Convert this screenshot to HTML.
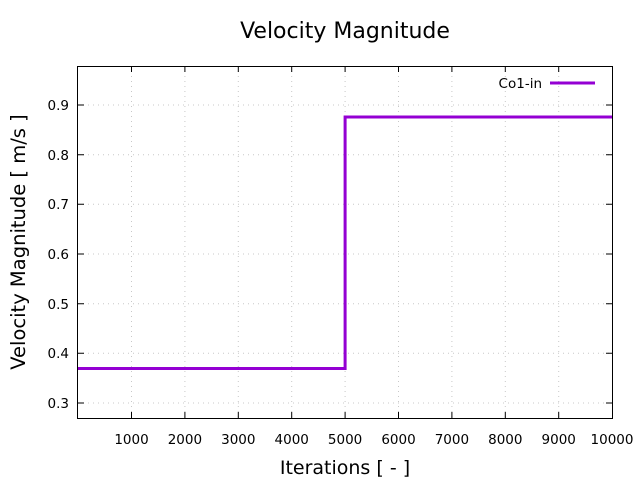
<!DOCTYPE html>
<html><head><style>body{margin:0;background:#fff}svg{display:block}</style></head><body>
<svg width="640" height="480" xmlns="http://www.w3.org/2000/svg" font-family="DejaVu Sans, sans-serif">
<rect width="640" height="480" fill="#fff"/>
<g stroke="#c8c8c8" stroke-width="1" stroke-dasharray="1,4">
<line x1="131.5" y1="66" x2="131.5" y2="418"/><line x1="184.9" y1="66" x2="184.9" y2="418"/><line x1="238.3" y1="66" x2="238.3" y2="418"/><line x1="291.7" y1="66" x2="291.7" y2="418"/><line x1="345.1" y1="66" x2="345.1" y2="418"/><line x1="398.5" y1="66" x2="398.5" y2="418"/><line x1="451.9" y1="66" x2="451.9" y2="418"/><line x1="505.3" y1="66" x2="505.3" y2="418"/><line x1="558.7" y1="66" x2="558.7" y2="418"/>
<line x1="78" y1="105" x2="612" y2="105"/><line x1="78" y1="154.7" x2="612" y2="154.7"/><line x1="78" y1="204.3" x2="612" y2="204.3"/><line x1="78" y1="254" x2="612" y2="254"/><line x1="78" y1="303.7" x2="612" y2="303.7"/><line x1="78" y1="353.3" x2="612" y2="353.3"/><line x1="78" y1="403" x2="612" y2="403"/>
</g>
<g stroke="#000" stroke-width="1">
<rect x="77.5" y="66.5" width="535" height="352" fill="none"/>
<path d="M131.5 418v-6M184.9 418v-6M238.3 418v-6M291.7 418v-6M345.1 418v-6M398.5 418v-6M451.9 418v-6M505.3 418v-6M558.7 418v-6M131.5 66v6M184.9 66v6M238.3 66v6M291.7 66v6M345.1 66v6M398.5 66v6M451.9 66v6M505.3 66v6M558.7 66v6"/>
<path d="M78 105h6M78 154.7h6M78 204.3h6M78 254h6M78 303.7h6M78 353.3h6M78 403h6M612 105h-6M612 154.7h-6M612 204.3h-6M612 254h-6M612 303.7h-6M612 353.3h-6M612 403h-6"/>
</g>
<g font-size="13.5" fill="#000" text-anchor="middle">
<text x="131.5" y="444">1000</text><text x="184.9" y="444">2000</text><text x="238.3" y="444">3000</text><text x="291.7" y="444">4000</text><text x="345.1" y="444">5000</text><text x="398.5" y="444">6000</text><text x="451.9" y="444">7000</text><text x="505.3" y="444">8000</text><text x="558.7" y="444">9000</text><text x="612" y="444">10000</text>
</g>
<g font-size="13.5" fill="#000" text-anchor="end">
<text x="69" y="110">0.9</text><text x="69" y="160">0.8</text><text x="69" y="209">0.7</text><text x="69" y="259">0.6</text><text x="69" y="309">0.5</text><text x="69" y="358">0.4</text><text x="69" y="408">0.3</text>
</g>
<text x="345" y="38" font-size="22" text-anchor="middle">Velocity Magnitude</text>
<text x="345" y="474" font-size="19" text-anchor="middle">Iterations [ - ]</text>
<text transform="translate(25,242) rotate(-90)" font-size="19.5" text-anchor="middle">Velocity Magnitude [ m/s ]</text>
<text x="542" y="88" font-size="13.5" text-anchor="end">Co1-in</text>
<line x1="550" y1="83" x2="595" y2="83" stroke="#9400d3" stroke-width="3"/>
<polyline points="78,368.5 345.1,368.5 345.1,117 612,117" fill="none" stroke="#9400d3" stroke-width="3"/>
</svg>
</body></html>
